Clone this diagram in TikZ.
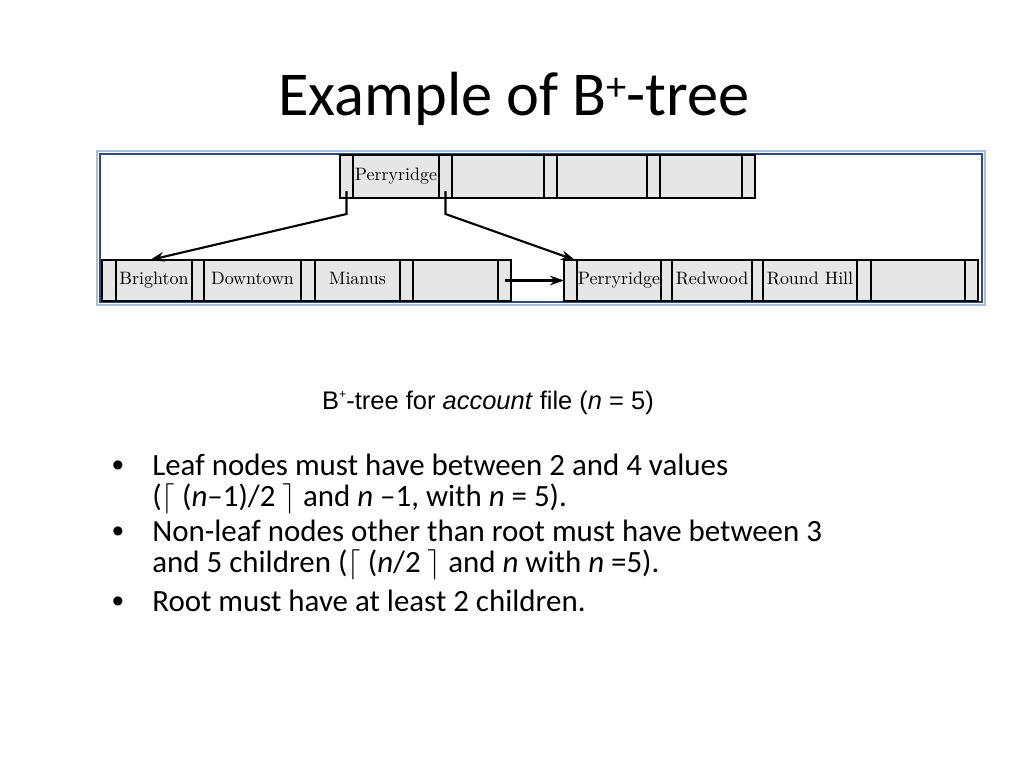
\documentclass[tikz,border=0pt]{standalone}
\usepackage{fontspec}
\newfontfamily\slidefont{Carlito}
\newfontfamily\capfont{Liberation Sans}
\usetikzlibrary{arrows.meta,positioning,calc}
\definecolor{CELL}{HTML}{E6E6E6}
\definecolor{FRAME}{HTML}{2E4A7A}
\definecolor{FRAMELT}{HTML}{A9BEDC}

\begin{document}
\begin{tikzpicture}[
  x=0.02cm, y=-0.02cm,
  cell/.style={draw=black, fill=CELL, line width=1.1pt, inner sep=0pt, outer sep=0pt,
    minimum height=43*0.02cm, text height=7pt, text depth=2pt,
    font=\fontsize{10.2}{12}\selectfont},
  ptrcell/.style={cell, minimum width=#1*0.02cm},
  ptrcell/.default=13,
  keycell/.style={cell, minimum width=#1*0.02cm},
  leafptr/.style={ptrcell=#1, minimum height=41*0.02cm},
  leafptr/.default=13,
  leafkey/.style={keycell=#1, minimum height=41*0.02cm},
  link/.style={-{Stealth[length=8pt, width=5.5pt]}, draw=black, line width=1.2pt},
  slide/.style={anchor=base west, inner sep=0pt, font=\slidefont\fontsize{17.6}{21}\selectfont},
  dot/.style={anchor=base, inner sep=0pt, font=\capfont\fontsize{19}{21}\selectfont},
]
\useasboundingbox (0,0) rectangle (1024,768);

% ---- title ----------------------------------------------------------------
\node[anchor=base, inner sep=0pt, font=\slidefont\fontsize{35.5}{40}\selectfont] (title) at (514,115)
  {Example of B\raisebox{8pt}{\fontsize{23}{23}\selectfont +}-tree};

% ---- frame ----------------------------------------------------------------
\draw[FRAMELT, line width=1.5pt] (97,151) rectangle (985,305);
\draw[FRAME, line width=1.1pt] (100,154) rectangle (982,302);

% ---- root node ------------------------------------------------------------
\node[ptrcell, anchor=west] (rp1) at (340,176.5) {};
\node[keycell=86, right=0pt of rp1] (rk1) {Perryridge};
\node[ptrcell, right=0pt of rk1] (rp2) {};
\node[keycell=92, right=0pt of rp2] (rk2) {};
\node[ptrcell, right=0pt of rk2] (rp3) {};
\node[keycell=90, right=0pt of rp3] (rk3) {};
\node[ptrcell, right=0pt of rk3] (rp4) {};
\node[keycell=82, right=0pt of rp4] (rk4) {};
\node[ptrcell, right=0pt of rk4] (rp5) {};

% ---- left leaf ------------------------------------------------------------
\node[leafptr=14, anchor=west] (lp1) at (102,280.5) {};
\node[leafkey=76, right=0pt of lp1] (lk1) {Brighton};
\node[leafptr=12, right=0pt of lk1] (lp2) {};
\node[leafkey=97, right=0pt of lp2] (lk2) {Downtown};
\node[leafptr=14, right=0pt of lk2] (lp3) {};
\node[leafkey=85, right=0pt of lp3] (lk3) {Mianus};
\node[leafptr, right=0pt of lk3] (lp4) {};
\node[leafkey=85, right=0pt of lp4] (lk4) {};
\node[leafptr, right=0pt of lk4] (lp5) {};

% ---- right leaf -----------------------------------------------------------
\node[leafptr, anchor=west] (sp1) at (564,280.5) {};
\node[leafkey=84, right=0pt of sp1] (sk1) {Perryridge};
\node[leafptr=11, right=0pt of sk1] (sp2) {};
\node[leafkey=80, right=0pt of sp2] (sk2) {Redwood};
\node[leafptr=11, right=0pt of sk2] (sp3) {};
\node[leafkey=94, right=0pt of sp3] (sk3) {Round Hill};
\node[leafptr=14, right=0pt of sk3] (sp4) {};
\node[leafkey=94, right=0pt of sp4] (sk4) {};
\node[leafptr, right=0pt of sk4] (sp5) {};

% ---- pointers -------------------------------------------------------------
\draw[link] ($(rp1.south)+(0,-7)$) -- ++(0,23) -- ($(lk1.north)+(-4,0)$);
\draw[link] ($(rp2.south)+(0,-7)$) -- ++(0,23) -- ($(sp1.north east)+(-2,0)$);
\draw[link] (lp5.center) -- (sp1.west);

% ---- caption --------------------------------------------------------------
\node[anchor=base, inner sep=0pt, font=\capfont\fontsize{14.5}{17}\selectfont] (cap) at (488,409)
  {B\raisebox{6pt}{\fontsize{7}{7}\selectfont +}-tree for \textit{account} file (\textit{n} = 5)};

% ---- bullets --------------------------------------------------------------
\node[dot] (d1) at (118,476) {•};
\node[slide] (l1) at (152,475) {Leaf nodes must have between 2 and 4 values};
\node[slide] (l2) at (152,506) {($\lceil$ (\textit{n}–1)/2 $\rceil$ and \textit{n} –1, with \textit{n} = 5).};
\node[dot] (d2) at (118,542) {•};
\node[slide] (l3) at (152,541) {Non-leaf nodes other than root must have between 3};
\node[slide] (l4) at (152,572) {and 5 children ($\lceil$ (\textit{n}/2 $\rceil$ and \textit{n} with \textit{n} =5).};
\node[dot] (d3) at (118,612) {•};
\node[slide] (l5) at (152,611) {Root must have at least 2 children.};

\end{tikzpicture}
\end{document}
